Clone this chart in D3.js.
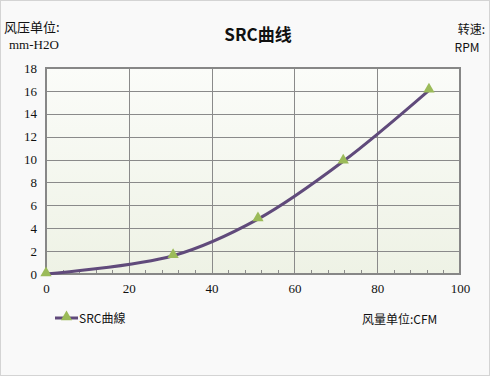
<!DOCTYPE html>
<html>
<head>
<meta charset="utf-8">
<script src="https://cdn.jsdelivr.net/npm/d3@7"></script>
<style>
  body { margin: 0; background: #fff; }
  svg { display: block; }
</style>
</head>
<body>
<svg id="chart"></svg>
<script>
// data
const flow = [0, 30.7, 51.2, 71.8, 92.5];
const pressure = [0, 1.6, 4.8, 9.85, 16.05];
const xTicks = [0, 20, 40, 60, 80, 100];
const yTicks = [0, 2, 4, 6, 8, 10, 12, 14, 16, 18];
const xMinorTicks = d3.range(0, 101, 4);

const width = 490, height = 376;
const margin = { top: 68, right: 30, bottom: 102, left: 46 };
const plotW = width - margin.left - margin.right;
const plotH = height - margin.top - margin.bottom;

const svg = d3.select("#chart").attr("width", width).attr("height", height);

const defs = svg.append("defs");
const grad = defs.append("linearGradient")
    .attr("id", "plotBg").attr("x1", 0).attr("y1", 0).attr("x2", 0).attr("y2", 1);
grad.append("stop").attr("offset", "0%").attr("stop-color", "#fbfcf9");
grad.append("stop").attr("offset", "100%").attr("stop-color", "#eef2e5");

// chart background
svg.append("rect")
    .attr("x", 0.5).attr("y", 0.5)
    .attr("width", width - 1).attr("height", height - 1)
    .attr("fill", "#f9f9f9")
    .attr("stroke", "#d4d4d4");

const g = svg.append("g").attr("transform", `translate(${margin.left},${margin.top})`);

const x = d3.scaleLinear().domain([0, 100]).range([0, plotW]);
const y = d3.scaleLinear().domain([0, 18]).range([plotH, 0]);

g.append("rect")
    .attr("width", plotW).attr("height", plotH)
    .attr("fill", "url(#plotBg)");

// grid lines
g.append("g").selectAll("line")
    .data(yTicks.slice(1, -1))
    .join("line")
    .attr("x1", 0).attr("x2", plotW)
    .attr("y1", d => Math.round(y(d)) + 0.5).attr("y2", d => Math.round(y(d)) + 0.5)
    .attr("stroke", "#8a8a8a").attr("stroke-width", 1);

g.append("g").selectAll("line")
    .data(xTicks.slice(1, -1))
    .join("line")
    .attr("x1", d => Math.round(x(d)) + 0.5).attr("x2", d => Math.round(x(d)) + 0.5)
    .attr("y1", 0).attr("y2", plotH)
    .attr("stroke", "#8a8a8a").attr("stroke-width", 1);

// minor ticks on the bottom edge, pointing inward
g.append("g").selectAll("line")
    .data(xMinorTicks)
    .join("line")
    .attr("x1", d => Math.round(x(d)) + 0.5).attr("x2", d => Math.round(x(d)) + 0.5)
    .attr("y1", plotH).attr("y2", plotH - 4)
    .attr("stroke", "#8a8a8a");

// plot border
g.append("rect")
    .attr("width", plotW).attr("height", plotH)
    .attr("fill", "none")
    .attr("stroke", "#878787").attr("stroke-width", 2);

const tickFont = "'Liberation Serif', 'Noto Sans CJK SC', serif";

// axes (labels only, lines drawn above)
const xAxis = g.append("g")
    .attr("transform", `translate(0,${plotH})`)
    .call(d3.axisBottom(x).tickValues(xTicks).tickSize(0).tickPadding(10));
const yAxis = g.append("g")
    .call(d3.axisLeft(y).tickValues(yTicks).tickSize(0).tickPadding(9));

[xAxis, yAxis].forEach(a => {
    a.select(".domain").remove();
    a.selectAll("text")
        .attr("font-family", tickFont)
        .attr("font-size", 13)
        .attr("fill", "#111");
});

// curve
const points = flow.map((f, i) => ({ f: f, p: pressure[i] }));
const line = d3.line()
    .x(d => x(d.f))
    .y(d => y(d.p))
    .curve(d3.curveCatmullRom.alpha(0.5));

g.append("path")
    .datum(points)
    .attr("d", line)
    .attr("fill", "none")
    .attr("stroke", "#604a7b")
    .attr("stroke-width", 3);

const tri = d3.symbol().type(d3.symbolTriangle).size(55);
g.append("g").selectAll("path")
    .data(points)
    .join("path")
    .attr("d", tri)
    .attr("transform", d => `translate(${x(d.f)},${y(d.p) - 1})`)
    .attr("fill", "#9bbb59");

// title and axis captions
svg.append("text")
    .attr("x", 258).attr("y", 41)
    .attr("text-anchor", "middle")
    .attr("font-family", "'Noto Sans CJK SC', sans-serif")
    .attr("font-weight", "bold")
    .attr("font-size", 17)
    .attr("fill", "#111")
    .text("SRC曲线");

const capFont = "'Noto Sans CJK SC', sans-serif";
svg.append("text")
    .attr("x", 4).attr("y", 32)
    .attr("font-family", capFont).attr("font-size", 13).attr("fill", "#111")
    .text("风压单位:");
svg.append("text")
    .attr("x", 9).attr("y", 49)
    .attr("font-family", tickFont).attr("font-size", 13).attr("fill", "#111")
    .text("mm-H2O");

svg.append("text")
    .attr("x", 485).attr("y", 34)
    .attr("text-anchor", "end")
    .attr("font-family", capFont).attr("font-size", 12).attr("fill", "#111")
    .text("转速:");
svg.append("text")
    .attr("x", 467).attr("y", 52)
    .attr("text-anchor", "middle")
    .attr("font-family", capFont).attr("font-size", 12).attr("fill", "#111")
    .text("RPM");

svg.append("text")
    .attr("x", 362).attr("y", 324)
    .attr("font-family", capFont).attr("font-size", 12).attr("fill", "#111")
    .text("风量单位:CFM");

// legend
const legend = svg.append("g").attr("transform", "translate(55,318)");
legend.append("line")
    .attr("x1", 0).attr("x2", 23)
    .attr("stroke", "#604a7b").attr("stroke-width", 3);
legend.append("path")
    .attr("d", tri)
    .attr("transform", "translate(11.5,-1)")
    .attr("fill", "#9bbb59");
legend.append("text")
    .attr("x", 24).attr("y", 5)
    .attr("font-family", capFont).attr("font-size", 12).attr("fill", "#111")
    .text("SRC曲線");
</script>
</body>
</html>
